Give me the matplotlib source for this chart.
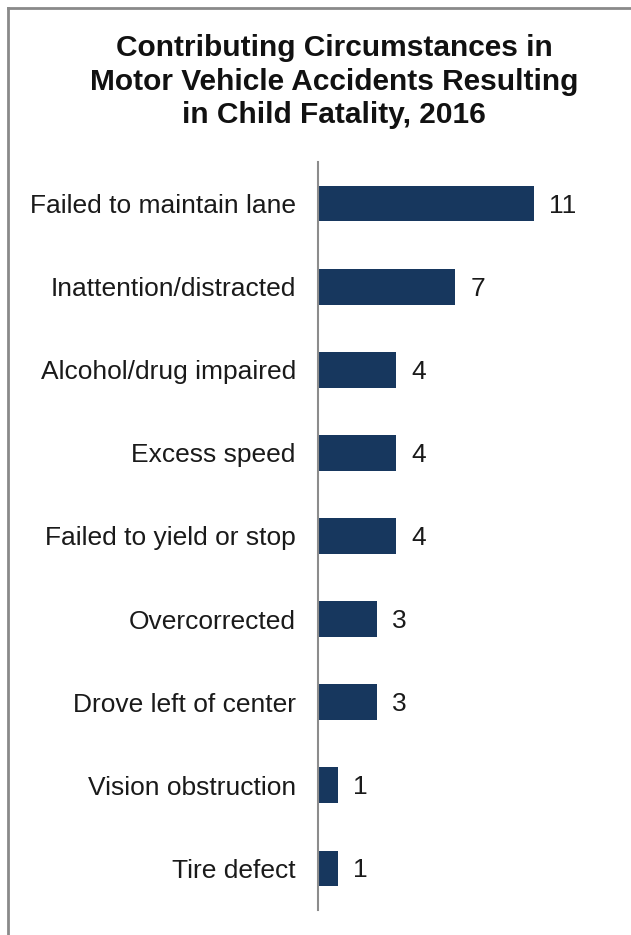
import matplotlib
matplotlib.use("Agg")
import matplotlib.pyplot as plt
from matplotlib.lines import Line2D

categories = ["Failed to maintain lane", "Inattention/distracted", "Alcohol/drug impaired",
              "Excess speed", "Failed to yield or stop", "Overcorrected",
              "Drove left of center", "Vision obstruction", "Tire defect"]
values = [11, 7, 4, 4, 4, 3, 3, 1, 1]
title = "Contributing Circumstances in\nMotor Vehicle Accidents Resulting\nin Child Fatality, 2016"

plt.rcParams['font.family'] = ['Liberation Sans', 'DejaVu Sans']

W, H = 631, 935
fig = plt.figure(figsize=(W / 100, H / 100), dpi=100)

left, top, bottom = 318, 162, 910
xmax = 15
width = xmax * 19.6
ax = fig.add_axes([left / W, 1 - bottom / H, width / W, (bottom - top) / H])

n = len(categories)
ypos = list(range(n))
ax.barh(ypos, values, height=0.43, color="#17375E", edgecolor="none")
ax.set_ylim(n - 0.5, -0.5)
ax.set_xlim(0, xmax)
ax.set_yticks(ypos)
ax.set_yticklabels(categories, fontsize=19, color="#1a1a1a")
ax.tick_params(axis='y', length=0, pad=16)
ax.set_xticks([])
for s in ["top", "right", "bottom"]:
    ax.spines[s].set_visible(False)
ax.spines["left"].set_color("#8c8c8c")
ax.spines["left"].set_linewidth(1.5)

for y, v in zip(ypos, values):
    ax.annotate(str(v), (v, y), xytext=(15, -2), textcoords="offset pixels",
                va="center", ha="left", fontsize=19, color="#1a1a1a")

fig.text(334 / W, 1 - 81.5 / H, title, ha="center", va="center", fontsize=21.5,
         fontweight="bold", color="#111111", linespacing=1.24)

fig.add_artist(Line2D([8 / W, 8 / W], [0, 1 - 8 / H], transform=fig.transFigure,
                      color="#8a8a8a", linewidth=2))
fig.add_artist(Line2D([8 / W, 1], [1 - 8 / H, 1 - 8 / H], transform=fig.transFigure,
                      color="#8a8a8a", linewidth=2))

fig.savefig("out.png", dpi=100)
